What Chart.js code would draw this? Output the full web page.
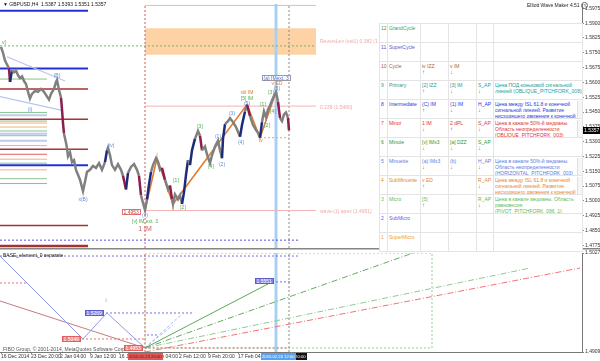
<!DOCTYPE html>
<html>
<head>
<meta charset="utf-8">
<script src="https://cdn.jsdelivr.net/npm/chart.js@4.4.1/dist/chart.umd.min.js"></script>
<style>
  html, body { margin: 0; padding: 0; background: #fff; }
  #wrap { position: relative; width: 600px; height: 361px; overflow: hidden; font-family: "Liberation Sans", Arial, sans-serif; }
  canvas { position: absolute; left: 0; }
  #main { top: 0; }
  #sub { top: 248px; }
  .txt { position: absolute; font-size: 5px; line-height: 6px; white-space: nowrap; z-index: 3; }
  #tbl { position: absolute; left: 379px; top: 23px; width: 203px; z-index: 2; background: #fff; }
  #tbl table { border-collapse: collapse; table-layout: fixed; width: 203px; font-size: 5px; line-height: 6px; }
  #tbl tr { height: 19px; }
  #tbl td { border: 1px solid #e4e4e4; padding: 0; vertical-align: top; overflow: hidden; }
  #tbl td > div { height: 18px; overflow: hidden; padding: 1px 0 0 1px; box-sizing: border-box; }
  .ar { font-size: 6px; font-weight: bold; }
  .desc { display: flex; }
  .desc .t { flex: 1; overflow: hidden; height: 18px; }
  .desc .sb { width: 4px; border-left: 1px solid #e0e0e0; background: #f6f6f6; }
  .help { display: inline-block; width: 5px; height: 5px; border: 1px solid #666; border-radius: 50%; font-size: 4px; line-height: 5px; text-align: center; vertical-align: middle; }
</style>
</head>
<body>
<div id="wrap">
  <canvas id="main" width="600" height="252"></canvas>
  <canvas id="sub" width="600" height="113"></canvas>
  <div class="txt" style="left:3px;top:1px;color:#111;">&#9660; GBPUSD,H4&nbsp; 1.5387 1.5393 1.5351 1.5357</div>
  <div class="txt" style="left:527px;top:2px;color:#222;">Elliott Wave Maker 4.51 <span class="help">?</span></div>
  <div class="txt" style="left:3px;top:252px;color:#222;">BASE_element_0 separate</div>
  <div class="txt" style="left:3px;top:346px;color:#555;">FIBO Group, &copy; 2001-2014, MetaQuotes Software Corp.</div>
  <div id="tbl"></div>
</div>
<script>
// ---- price data (GBPUSD H4, bar index -> close) ----
const priceBars = [1,3,5,7,9,10,12,14,16,18,20,22,24,26,28,30,32,35,38,41,44,47,49,51,54,56,57,59,61,62,
  63,64,66,67,68,70,72,74,76,78,80,82,83,85,87,90,93,96,99,102,105,107,108,110,112,115,118,121,123,126,
  128,131,134,137,139,141,143,145,147,149,151,153,156,158,160,162,165,168,170,172,173,175,178,180,182,184,
  186,188,190,192,195,198,200,202,205,207,210,212,215,218,220,222,223,225,228,230,233,236,238,240,242,245,
  247,250,253,256,258,260,262,264,266,268,270,272,274,276,278,280,282,284,286,288,289];
const priceClose = [1.5780,1.5750,1.5711,1.5691,1.5671,1.5602,1.5661,1.5651,1.5661,1.5636,
  1.5622,1.5631,1.5607,1.5592,1.5552,1.5518,1.5542,1.5557,1.5552,1.5567,
  1.5552,1.5528,1.5513,1.5542,1.5567,1.5602,1.5612,1.5562,1.5523,1.5463,
  1.5394,1.5340,1.5295,1.5266,1.5226,1.5246,1.5196,1.5206,1.5157,1.5132,
  1.5107,1.5068,1.5049,1.5097,1.5147,1.5157,1.5177,1.5167,1.5191,1.5157,
  1.5196,1.5256,1.5269,1.5231,1.5181,1.5157,1.5186,1.5157,1.5127,1.5058,
  1.5142,1.5172,1.5186,1.5157,1.5127,1.5028,1.4989,1.4953,1.5008,1.5083,
  1.5147,1.5181,1.5216,1.5196,1.5157,1.5167,1.5107,1.5058,1.5078,1.5008,
  1.4984,1.5033,1.5008,1.5028,1.4984,1.5043,1.5132,1.5206,1.5181,1.5256,
  1.5315,1.5354,1.5330,1.5256,1.5275,1.5236,1.5191,1.5231,1.5275,1.5305,
  1.5256,1.5216,1.5315,1.5389,1.5404,1.5419,1.5399,1.5374,1.5350,1.5325,
  1.5384,1.5453,1.5488,1.5429,1.5384,1.5359,1.5345,1.5320,1.5399,1.5453,
  1.5424,1.5463,1.5483,1.5508,1.5532,1.5551,1.5503,1.5419,1.5404,1.5438,
  1.5448,1.5419,1.5357];
const lastPrice = 1.5357;

// orange zigzag (subminuette waves)
const zigBars = [145, 157, 173, 247, 260, 276];
const zigPrices = [1.4953, 1.5216, 1.4984, 1.5488, 1.5320, 1.5551];

// channel trendlines
const chanUpper = [[7, 1.5730], [65, 1.5607]];
const chanLower = [[0, 1.5528], [62, 1.5458]];

// horizontal levels on the left
const blueLevels = [1.5963, 1.5671, 1.5181];
const darkRedLevels = [1.5567, 1.5414, 1.5261, 1.4875, 1.4771];
const greenLevels = [1.5617, 1.5448, 1.5404, 1.5354, 1.5330, 1.5191, 1.5112, 1.5088];
const orangeLevels = [1.5394, 1.5374, 1.5280, 1.5211, 1.5157];
const lightBlueLevels = [1.5434, 1.5340, 1.5305];
const redLevels = [1.5236];
const longLevelEnd = 88, shortLevelEnd = 47;
const blueDashLevel = 1.4801;

// fibo / target zone
const fibFrom = 145, fibTo = 316;
const fibLevels = [1.5990, 1.5480, 1.4951];
const reversZone = [1.5874, 1.5740];
const greenDotLevel = 1.5785;
const ivLevel = 1.5320, ivFrom = 260;
const markBars = [145, 276, 289]; // wave-(1) apex, v ED top, last bar

// axes
const mainMin = 1.47612, mainMax = 1.59972;
const mainTicks = [1.4775,1.4850,1.4925,1.5000,1.5075,1.5150,1.5225,1.5300,1.5375,1.5450,1.5525,1.5600,1.5675,1.5750,1.5825,1.5900,1.5975];
const xMaxBar = 582;
const xTickBars = [1, 31, 60, 90, 119, 149, 179, 208, 238];
const xTickLabels = ['16 Dec 2014','23 Dec 20:00','2 Jan 04:00','9 Jan 12:00','16 Jan 20:00','26 Jan 04:00','2 Feb 12:00','9 Feb 20:00','17 Feb 04:00'];
const subMin = 1.4909, subMax = 1.5027;
const subTicks = [1.4909, 1.5027];

// wave labels [bar, price, text]
const blueWaveLabels = [[57,1.5636,'(B)'],[30,1.5463,'(i)'],[83,1.5008,'x(B)'],[111,1.5280,'(iv)'],[145,1.4924,'(v)'],
  [218,1.5325,'(1)'],[222,1.5186,'(2)'],[232,1.5443,'(3)'],[241,1.5295,'(4)'],[247,1.5493,'(5)'],[277,1.5566,'(5)']];
const greenWaveLabels = [[176,1.5102,'[1]'],[183,1.4964,'[2]'],[200,1.5374,'[3]'],[211,1.5172,'[4]'],[247,1.5518,'[5] IM'],
  [263,1.5488,'[1]'],[267,1.5379,'[2]'],[271,1.5547,'[3]'],[273,1.5453,'[4]'],[145,1.4895,'[v] IM ext. 3']];
const orangeWaveLabels = [[157,1.5236,'i'],[173,1.4959,'ii'],[247,1.5547,'xiii IM'],[261,1.5305,'iv'],[277,1.5593,'v ED']];
const fibTexts = [[320,1.5809,'ReversLev (ext1) 0.382 (1.5791)'],[320,1.5473,'0.236 (1.5480)'],[320,1.4944,'wave-(1) apex (1.4951)']];

// lower (separate) window objects
const subZigBars = [0, 83, 107, 145];
const subZigVals = [1.50234, 1.49245, 1.49555, 1.49138];
const subSlopeBars = [0, 145];
const subSlopeVals = [1.49698, 1.49138];
const subFanSolid = [[145, 1.49138], [272, 1.49926]];
const subFanA = [[145, 1.49138], [413, 1.50270]];
const subFanB = [[145, 1.49138], [530, 1.50091]];
const subFanRed = [[145, 1.49090], [580, 1.50091]];
const subFanShort = [[[145, 1.49138], [183, 1.49555]], [[145, 1.49138], [173, 1.49412]]];
const subRect = [[145, 1.5027], [432, 1.5027], [432, 1.49138], [145, 1.49138], [145, 1.5027]];
const subRedDots = [[0, 28, 1.49912], [78, 145, 1.49245], [145, 290, 1.49138]];
const subBlueDots = [[102, 193, 1.49555], [272, 290, 1.49926], [0, 300, 1.50234], [147, 157, 1.49293]];
const subTags = [[85, 1.49555, '1.5269'], [62, 1.49245, '1.5049'], [124, 1.49138, '1.4953'], [255, 1.49936, '1.5551']];
const timeTags = [[289, '2015.02.27 20:00'], [145, '2015.01.23 20:00'], [278, '2015.02.26 12:00']];

// wave-degree table
const degreeNums = [12,11,10,9,8,7,6,5,4,3,2,1];
const degreeNames = ['GrandCycle','SuperCycle','Cycle','Primary','Intermediate','Minor','Minute','Minuette','SubMinuette','Micro','SubMicro','SuperMicro'];
const waveNow = ['','','iv IZZ','[2] IZZ','(C) IM','1 IM','[v] IMx3','(a) IMx3','v ED','[5]','',''];
const waveNowDir = ['','','u','u','u','d','d','d','u','u','',''];
const waveNext = ['','','v IM','[3] IM','(1) IM','2 dPL','[a] DZZ','(b)','','','',''];
const waveNextDir = ['','','d','d','d','u','d','d','','','',''];
const apState = ['','','','S_AP','H_AP','S_AP','S_AP','H_AP','R_AP','R_AP','',''];
const apDir = ['','','','d','d','d','d','d','d','d','',''];
const apNotes = ['','','',
  'Цена ПОД коньковой сигнальной линией (OBLIQUE_PITCHFORK_008)',
  'Цена между ISL 61.8 и конечной сигнальной линией. Развитие нисходящего движения к конечной',
  'Цена в канале 50%-й медианы. Область неопределенности (OBLIQUE_PITCHFORK_003)',
  '',
  'Цена в канале 50%-й медианы. Область неопределенности (HORIZONTAL_PITCHFORK_003)',
  'Цена между ISL 61.8 и конечной сигнальной линией. Развитие нисходящего движения к конечной',
  'Цена в канале медианы. Область равновесия (PIVOT_PITCHFORK_086_1)',
  '',''];

// ---- styles ----
const degreeColors = ['#3f9f3f','#5757cf','#b0642c','#22a0a0','#2a3ae0','#e03535','#2e9a2e','#5b7de0','#e8862c','#5cbc5c','#6262ee','#f0a033'];
const FONT = '"Liberation Sans", Arial, sans-serif';
Chart.defaults.font.family = FONT;

// ---- table ----
(function buildTable() {
  const arrow = d => d === 'u' ? '<span class="ar" style="color:#7055c8">&#8593;</span>' :
                     d === 'd' ? '<span class="ar" style="color:#cc5a5a">&#8595;</span>' : '';
  let h = '<table><colgroup><col style="width:8px"><col style="width:33px"><col style="width:28px"><col style="width:28px"><col style="width:17px"><col style="width:89px"></colgroup>';
  degreeNums.forEach((n, i) => {
    const c = degreeColors[i];
    const sb = apNotes[i] && i !== 3 && i !== 9 ? '<div class="sb"></div>' : '';
    h += '<tr style="color:' + c + '">' +
      '<td><div>' + n + '</div></td>' +
      '<td><div>' + degreeNames[i] + '</div></td>' +
      '<td><div>' + waveNow[i] + '<br>' + arrow(waveNowDir[i]) + '</div></td>' +
      '<td><div>' + waveNext[i] + '<br>' + arrow(waveNextDir[i]) + '</div></td>' +
      '<td><div>' + apState[i] + '<br>' + arrow(apDir[i]) + '</div></td>' +
      '<td><div class="desc"><div class="t">' + apNotes[i] + '</div>' + sb + '</div></td></tr>';
  });
  document.getElementById('tbl').innerHTML = h + '</table>';
})();

// ---- helpers ----
const pts = (bars, vals) => bars.map((b, i) => ({ x: b, y: vals[i] }));
const pairs = arr => arr.map(([b, v]) => ({ x: b, y: v }));
function levelPts(levels, x0, x1) {
  const out = [];
  levels.forEach(p => out.push({ x: x0, y: p }, { x: x1, y: p }, { x: x1, y: null }));
  return out;
}
function spanPts(spans) {
  const out = [];
  spans.forEach(([a, b, v]) => out.push({ x: a, y: v }, { x: b, y: v }, { x: b, y: null }));
  return out;
}
function line(data, color, width, dash, order) {
  return { data, borderColor: color, borderWidth: width, borderDash: dash || [], pointRadius: 0,
           fill: false, spanGaps: false, order: order == null ? 5 : order };
}
function drawTexts(ctx, x, y, items, color, font, align) {
  ctx.save();
  ctx.fillStyle = color; ctx.font = font; ctx.textAlign = align || 'center'; ctx.textBaseline = 'middle';
  items.forEach(([b, p, t]) => ctx.fillText(t, x.getPixelForValue(b), y.getPixelForValue(p)));
  ctx.restore();
}
function drawBox(ctx, px, py, text, fill, stroke, color, align) {
  ctx.save();
  ctx.font = '5px ' + FONT;
  const w = Math.ceil(ctx.measureText(text).width) + 3, h = 6;
  let left = align === 'right' ? px - w : align === 'center' ? px - w / 2 : px;
  left = Math.round(left); const top = Math.round(py - h / 2);
  ctx.fillStyle = fill; ctx.fillRect(left, top, w, h);
  if (stroke) { ctx.strokeStyle = stroke; ctx.lineWidth = 1; ctx.strokeRect(left + 0.5, top + 0.5, w - 1, h - 1); }
  ctx.fillStyle = color; ctx.textBaseline = 'middle'; ctx.textAlign = 'left';
  ctx.fillText(text, left + 1.5, top + h / 2 + 0.5);
  ctx.restore();
}
const yAxisFit = s => { s.width = 18; };

// ---- main chart ----
const mainSets = [
  Object.assign(line(pts(priceBars, priceClose), '#7f7f7f', 2.5, null, 0), {
    segment: { borderColor: c => {
      const d = c.p1.parsed.y - c.p0.parsed.y;
      return d > 0.0055 ? '#1d2b7c' : d < -0.005 ? '#8c1d4c' : '#808080';
    } }
  }),
  line(pts(zigBars, zigPrices), '#e27a2c', 1.6, null, 1),
  line(pairs(chanUpper), '#b6c6ef', 1.2, null, 6),
  line(pairs(chanLower), '#b6c6ef', 1.2, null, 6),
  line(levelPts(blueLevels, 0, longLevelEnd), '#2232d8', 2, null, 7),
  line(levelPts(darkRedLevels.slice(0, 4), 0, longLevelEnd), '#a83232', 1.5, null, 7),
  line(levelPts(darkRedLevels.slice(4), 0, longLevelEnd), '#a83232', 2.5, null, 7),
  line(levelPts(greenLevels, 0, shortLevelEnd), '#88c488', 1, null, 7),
  line(levelPts(orangeLevels, 0, shortLevelEnd), '#f2ae82', 1, null, 7),
  line(levelPts(lightBlueLevels, 0, shortLevelEnd), '#bccbf2', 2, null, 7),
  line(levelPts(redLevels, 0, shortLevelEnd), '#e06060', 1, null, 7),
  line(levelPts([blueDashLevel], 0, 300), '#5252e0', 1, [2, 2], 7),
  line(levelPts(fibLevels, fibFrom, fibTo), '#f2b4b4', 1, null, 8),
  line(levelPts([greenDotLevel], 0, fibTo), '#6cb86c', 1, [2, 2], 8),
  line(levelPts([ivLevel], ivFrom, markBars[2]), '#e8a474', 1, [2, 2], 8),
  line([{ x: markBars[0], y: mainMin }, { x: markBars[0], y: mainMax }], '#d45a5a', 1, [2, 2], 9),
  line([{ x: markBars[1], y: mainMin }, { x: markBars[1], y: mainMax }], '#a8d0f3', 3, null, 9),
  line([{ x: markBars[2], y: mainMin }, { x: markBars[2], y: mainMax }], '#8a8a8a', 1, [2, 2], 9),
  Object.assign(line([{ x: fibFrom, y: reversZone[0] }, { x: fibTo, y: reversZone[0] }], 'rgba(0,0,0,0)', 0, null, 20), {
    fill: { value: reversZone[1] }, backgroundColor: '#fdd3a6'
  })
];

const mainDecor = {
  id: 'mainDecor',
  afterDatasetsDraw(chart) {
    const { ctx, scales: { x, y } } = chart;
    const f5 = '5px ' + FONT;
    drawTexts(ctx, x, y, blueWaveLabels, '#5b8edc', f5);
    drawTexts(ctx, x, y, greenWaveLabels, '#4fae4f', f5);
    drawTexts(ctx, x, y, orangeWaveLabels, '#e07a30', f5);
    drawTexts(ctx, x, y, [[2, 1.5800, 'v]']], '#4fae4f', f5, 'left');
    drawTexts(ctx, x, y, [[145, 1.4855, '1 IM']], '#d05a5a', '7px ' + FONT);
    drawTexts(ctx, x, y, fibTexts, '#eeaaaa', f5, 'left');
    drawBox(ctx, x.getPixelForValue(141), y.getPixelForValue(1.4944), '1.4953', '#fff', '#e07070', '#d04040', 'right');
    drawBox(ctx, x.getPixelForValue(276), y.getPixelForValue(1.5624), '(a) IMext. 3', '#fff', '#9a9a9a', '#4a6ad0', 'center');
  },
  afterDraw(chart) {
    const { ctx, chartArea, scales: { y } } = chart;
    ctx.save();
    ctx.strokeStyle = '#858585'; ctx.lineWidth = 1.5;
    ctx.beginPath(); ctx.moveTo(0, chartArea.bottom + 0.75); ctx.lineTo(600, chartArea.bottom + 0.75); ctx.stroke();
    const yc = Math.round(y.getPixelForValue(lastPrice));
    ctx.fillStyle = '#000'; ctx.fillRect(chartArea.right, yc - 3, 18, 7);
    ctx.fillStyle = '#fff'; ctx.font = '5px ' + FONT; ctx.textBaseline = 'middle';
    ctx.fillText(lastPrice.toFixed(4), chartArea.right + 2, yc + 0.5);
    ctx.restore();
  }
};

new Chart(document.getElementById('main'), {
  type: 'line',
  data: { datasets: mainSets },
  options: {
    responsive: false, animation: false, devicePixelRatio: 1,
    layout: { padding: { left: 0, right: 0, top: 0, bottom: 2 }, autoPadding: false },
    plugins: { legend: { display: false }, tooltip: { enabled: false } },
    elements: { line: { tension: 0 }, point: { radius: 0 } },
    scales: {
      x: { type: 'linear', min: 0, max: xMaxBar, display: false },
      y: {
        position: 'right', min: mainMin, max: mainMax, afterFit: yAxisFit,
        afterBuildTicks: s => { s.ticks = mainTicks.map(v => ({ value: v })); },
        ticks: { font: { size: 5 }, color: '#333', padding: 1, autoSkip: false, callback: v => Number(v).toFixed(4) },
        grid: { drawOnChartArea: false, tickLength: 2, color: '#888' },
        border: { color: '#777' }
      }
    }
  },
  plugins: [mainDecor]
});

// ---- lower window ----
const subSets = [
  line(pts(subZigBars, subZigVals), '#8e9ce8', 1, null, 1),
  line(pts(subSlopeBars, subSlopeVals), '#c97b7b', 1, null, 2),
  line(spanPts(subRedDots), '#e47272', 1, [2, 2], 3),
  line(spanPts(subBlueDots), '#7272e2', 1, [2, 2], 3),
  line(pairs(subFanSolid), '#5aa85a', 1, null, 2),
  line(pairs(subFanA), '#62ad62', 1, [6, 2, 1, 2], 2),
  line(pairs(subFanB), '#92c892', 1, [6, 2, 1, 2], 2),
  line(pairs(subFanRed), '#f07474', 1, [6, 2, 1, 2], 2),
  line(pairs(subFanShort[0]), '#a9b8f0', 1, [3, 2], 2),
  line(pairs(subFanShort[1]), '#a9b8f0', 1, [3, 2], 2),
  line(pairs(subRect), '#96cc96', 1, [2, 2], 4),
  line([{ x: markBars[0], y: subMin }, { x: markBars[0], y: subMax }], '#d45a5a', 1, [2, 2], 9),
  line([{ x: markBars[1], y: subMin }, { x: markBars[1], y: subMax }], '#a8d0f3', 3, null, 9),
  line([{ x: markBars[2], y: subMin }, { x: markBars[2], y: subMax }], '#8a8a8a', 1, [2, 2], 9)
];

const subDecor = {
  id: 'subDecor',
  afterDatasetsDraw(chart) {
    const { ctx, scales: { x, y } } = chart;
    subTags.forEach(([b, v, t]) => {
      const blue = Number(t) > 1.51;
      drawBox(ctx, x.getPixelForValue(b), y.getPixelForValue(v), t,
        blue ? '#8585e4' : '#f08484', blue ? '#5c5cd0' : '#e06060', '#fff', 'left');
    });
    drawTexts(ctx, x, y, [[106, 1.49698, 'i']], '#6a7ae0', '5px ' + FONT);
  },
  afterDraw(chart) {
    const { ctx, chartArea, scales: { x } } = chart;
    const fills = ['#111', '#e05656', '#5aa2f0'], inks = ['#fff', '#6a1010', '#fff'];
    timeTags.forEach(([b, t], i) => {
      ctx.save(); ctx.font = '4.2px ' + FONT;
      const w = Math.ceil(ctx.measureText(t).width) + 2;
      const left = Math.round(x.getPixelForValue(b) - w / 2);
      ctx.fillStyle = fills[i]; ctx.fillRect(left, chartArea.bottom + 1, w, 7);
      ctx.fillStyle = inks[i]; ctx.textBaseline = 'middle'; ctx.fillText(t, left + 1, chartArea.bottom + 5);
      ctx.restore();
    });
  }
};

new Chart(document.getElementById('sub'), {
  type: 'line',
  data: { datasets: subSets },
  options: {
    responsive: false, animation: false, devicePixelRatio: 1,
    layout: { padding: { left: 0, right: 0, top: 5, bottom: 0 }, autoPadding: false },
    plugins: { legend: { display: false }, tooltip: { enabled: false } },
    elements: { line: { tension: 0 }, point: { radius: 0 } },
    scales: {
      x: {
        type: 'linear', min: 0, max: xMaxBar, afterFit: s => { s.height = 9; },
        afterBuildTicks: s => { s.ticks = xTickBars.map(v => ({ value: v })); },
        ticks: { font: { size: 5 }, color: '#333', padding: 0, align: 'start', maxRotation: 0, autoSkip: false,
                 callback: (v, i) => xTickLabels[i] },
        grid: { drawOnChartArea: false, tickLength: 2, color: '#888' },
        border: { color: '#777' }
      },
      y: {
        position: 'right', min: subMin, max: subMax, afterFit: yAxisFit,
        afterBuildTicks: s => { s.ticks = subTicks.map(v => ({ value: v })); },
        ticks: { font: { size: 5 }, color: '#333', padding: 1, autoSkip: false, callback: v => Number(v).toFixed(4) },
        grid: { drawOnChartArea: false, tickLength: 2, color: '#888' },
        border: { color: '#777' }
      }
    }
  },
  plugins: [subDecor]
});
</script>
</body>
</html>
